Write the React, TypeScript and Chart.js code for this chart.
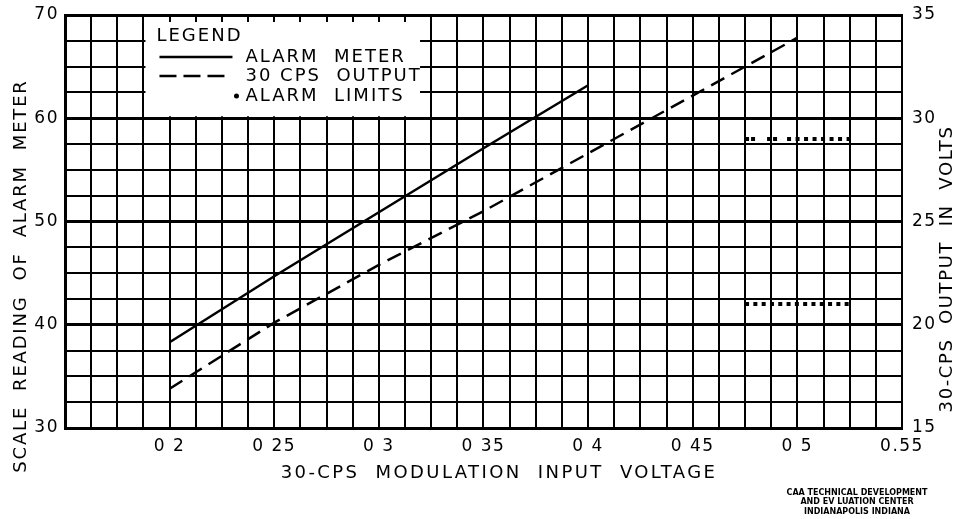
import React, { useEffect, useRef } from 'react';
import { Chart, registerables } from 'chart.js';

Chart.register(...registerables);

// ---- data ----
const alarmInputVoltage = [0.2, 0.25, 0.3, 0.35, 0.4];
const alarmMeterReading = [38.3, 44.7, 50.9, 57.1, 63.2];
const outputInputVoltage = [0.2, 0.25, 0.3, 0.35, 0.4, 0.45, 0.5];
const outputVolts = [16.9, 20.1, 22.9, 25.5, 28.3, 31.1, 33.9];
const alarmLimitX = [0.475, 0.525];
const upperAlarmLimit = [58, 58];
const lowerAlarmLimit = [42, 42];

const xTickValues = [0.2, 0.25, 0.3, 0.35, 0.4, 0.45, 0.5, 0.55];
const xTickLabels = ['0 2', '0 25', '0 3', '0 35', '0 4', '0 45', '0 5', '0.55'];
const leftTickValues = [30, 40, 50, 60, 70];
const rightTickValues = [15, 20, 25, 30, 35];

const seriesLabels = ['ALARM  METER', '30 CPS  OUTPUT', 'ALARM  LIMITS'];
const legendTitle = 'LEGEND';
const xTitle = '30-CPS  MODULATION  INPUT  VOLTAGE';
const leftTitle = 'SCALE  READING  OF  ALARM  METER';
const rightTitle = '30-CPS  OUTPUT  IN  VOLTS';
const creditLines = ['CAA TECHNICAL DEVELOPMENT', 'AND EV LUATION CENTER', 'INDIANAPOLIS INDIANA'];

const FONT = '"DejaVu Sans", "Liberation Sans", sans-serif';

const decorPlugin = {
  id: 'decor',
  beforeDraw(chart: any) {
    (chart.ctx as any).letterSpacing = '1.5px';
  },
  beforeDatasetsDraw(chart: any) {
    const ctx = chart.ctx;
    const x = chart.scales.x;
    const y = chart.scales.y;
    const ca = chart.chartArea;
    const left = x.getPixelForValue(0.1875) + 2;
    const right = x.getPixelForValue(0.3125) + 15;
    const top = ca.top + 7;
    const bottom = y.getPixelForValue(60) - 2;
    ctx.save();
    ctx.fillStyle = '#fff';
    ctx.fillRect(left, top, right - left, bottom - top);
    ctx.restore();
  },
  afterDraw(chart: any) {
    const ctx = chart.ctx;
    const x = chart.scales.x;
    const ca = chart.chartArea;
    const bx = x.getPixelForValue(0.1875) + 2;
    const by = ca.top;
    ctx.save();
    ctx.fillStyle = '#000';
    ctx.strokeStyle = '#000';
    // legend
    ctx.font = `18px ${FONT}`;
    (ctx as any).letterSpacing = '2px';
    ctx.textBaseline = 'middle';
    ctx.textAlign = 'left';
    ctx.fillText(legendTitle, bx + 11, by + 21);
    ctx.fillText(seriesLabels[0], bx + 100, by + 42);
    ctx.fillText(seriesLabels[1], bx + 100, by + 61);
    ctx.fillText(seriesLabels[2], bx + 100, by + 81);
    ctx.lineWidth = 2.5;
    ctx.beginPath();
    ctx.moveTo(bx + 14, by + 42);
    ctx.lineTo(bx + 87, by + 42);
    ctx.stroke();
    ctx.setLineDash([17, 7]);
    ctx.beginPath();
    ctx.moveTo(bx + 14, by + 61);
    ctx.lineTo(bx + 85, by + 61);
    ctx.stroke();
    ctx.setLineDash([]);
    ctx.beginPath();
    ctx.arc(bx + 91, by + 81, 2.5, 0, Math.PI * 2);
    ctx.fill();

    // x title
    ctx.font = `18px ${FONT}`;
    (ctx as any).letterSpacing = '2.4px';
    ctx.textAlign = 'center';
    ctx.fillText(xTitle, 499, 473);
    // left title
    ctx.save();
    ctx.translate(21, 276);
    ctx.rotate(-Math.PI / 2);
    (ctx as any).letterSpacing = '1.8px';
    ctx.fillText(leftTitle, 0, 0);
    ctx.restore();
    // right title
    ctx.save();
    ctx.translate(947, 269);
    ctx.rotate(-Math.PI / 2);
    (ctx as any).letterSpacing = '1.6px';
    ctx.fillText(rightTitle, 0, 0);
    ctx.restore();
    // credits
    (ctx as any).letterSpacing = '0px';
    ctx.font = `bold 8px ${FONT}`;
    creditLines.forEach((t, i) => ctx.fillText(t, 857, 493 + i * 9.3));
    ctx.restore();
    (ctx as any).letterSpacing = '0px';
  },
};

const noPad = (s: any) => {
  s.paddingTop = 0;
  s.paddingBottom = 0;
  s.paddingLeft = 0;
  s.paddingRight = 0;
};

export default function App() {
  const ref = useRef<HTMLCanvasElement>(null);
  useEffect(() => {
    if (!ref.current) return;
    const chart = new Chart(ref.current, {
      type: 'line',
      data: {
        datasets: [
          {
            label: seriesLabels[0],
            data: alarmInputVoltage.map((v, i) => ({ x: v, y: alarmMeterReading[i] })),
            yAxisID: 'y',
            borderColor: '#000',
            borderWidth: 2.5,
            pointRadius: 0,
            tension: 0,
          },
          {
            label: seriesLabels[1],
            data: outputInputVoltage.map((v, i) => ({ x: v, y: outputVolts[i] })),
            yAxisID: 'y2',
            borderColor: '#000',
            borderWidth: 2.5,
            borderDash: [15, 8],
            pointRadius: 0,
            tension: 0,
          },
          {
            label: seriesLabels[2],
            data: alarmLimitX.map((v, i) => ({ x: v, y: upperAlarmLimit[i] })),
            yAxisID: 'y',
            borderColor: '#000',
            borderWidth: 4,
            borderDash: [4, 2, 4, 12, 4, 2, 4, 10, 4, 4.5, 4, 4.5, 4, 4.5, 4, 4.5, 4, 4.5, 4, 4.5, 4, 4.5, 4, 4.5],
            borderCapStyle: 'butt',
            pointRadius: 0,
          },
          {
            label: seriesLabels[2] + ' (low)',
            data: alarmLimitX.map((v, i) => ({ x: v, y: lowerAlarmLimit[i] })),
            yAxisID: 'y',
            borderColor: '#000',
            borderWidth: 4,
            borderDash: [4, 4.3],
            borderCapStyle: 'butt',
            pointRadius: 0,
          },
        ],
      },
      options: {
        animation: false,
        responsive: false,
        layout: { padding: { top: 15, left: 0, right: 0, bottom: 0 } },
        plugins: { legend: { display: false }, tooltip: { enabled: false } },
        scales: {
          x: {
            type: 'linear',
            min: 0.15,
            max: 0.55,
            afterFit: (s: any) => { s.height = 91; noPad(s); },
            grid: { color: '#000', lineWidth: 2, drawTicks: false },
            border: { color: '#000', width: 3 },
            ticks: {
              stepSize: 0.0125,
              autoSkip: false,
              maxRotation: 0,
              padding: 8,
              color: '#000',
              font: { family: FONT, size: 17 },
              callback: (value: any) => {
                const i = xTickValues.findIndex((v) => Math.abs(v - Number(value)) < 1e-6);
                return i >= 0 ? xTickLabels[i] : '';
              },
            },
          },
          y: {
            type: 'linear',
            position: 'left',
            min: 30,
            max: 70,
            afterFit: (s: any) => { s.width = 65; noPad(s); },
            grid: {
              color: '#000',
              drawTicks: false,
              lineWidth: (c: any) => (c.tick && leftTickValues.includes(c.tick.value) ? 3 : 2),
            },
            border: { color: '#000', width: 3 },
            ticks: {
              stepSize: 2.5,
              autoSkip: false,
              padding: 6,
              color: '#000',
              font: { family: FONT, size: 17 },
              callback: (value: any) => (leftTickValues.includes(Number(value)) ? String(value) : ''),
            },
          },
          y2: {
            type: 'linear',
            position: 'right',
            min: 15,
            max: 35,
            afterFit: (s: any) => { s.width = 56; noPad(s); },
            grid: { display: false, drawTicks: false },
            border: { color: '#000', width: 2 },
            ticks: {
              stepSize: 5,
              autoSkip: false,
              padding: 10,
              color: '#000',
              font: { family: FONT, size: 17 },
              callback: (value: any) => (rightTickValues.includes(Number(value)) ? String(value) : ''),
            },
          },
        },
      },
      plugins: [decorPlugin],
    } as any);
    return () => chart.destroy();
  }, []);
  return (
    <div style={{ position: 'fixed', left: 0, top: 0, width: 958, height: 519, background: '#fff' }}>
      <canvas ref={ref} width={958} height={519} style={{ width: 958, height: 519 }} />
    </div>
  );
}
